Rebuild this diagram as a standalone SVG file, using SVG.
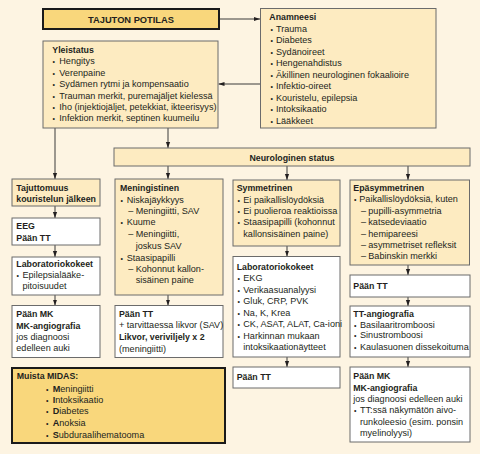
<svg xmlns="http://www.w3.org/2000/svg" width="480" height="454" viewBox="0 0 480 454">
<defs>
<style>
text { font-family: "Liberation Sans", Arial, sans-serif; font-size: 9.1px; fill: #231f20; }
.b { font-weight: bold; font-size: 8.8px; }
tspan.b { font-size: 9.1px; }
.d { font-size: 7px; }
.y { fill: #fdebc1; stroke: #6b6b6b; stroke-width: 1; }
.w { fill: #ffffff; stroke: #6b6b6b; stroke-width: 1; }
.k { fill: #f9d77c; stroke: #1a1a1a; stroke-width: 2; }
.c { stroke: #3a3a3a; stroke-width: 1; fill: none; marker-end: url(#a); }
</style>
<marker id="a" viewBox="0 0 6 6" refX="6" refY="3" markerWidth="6" markerHeight="6" orient="auto" markerUnits="userSpaceOnUse">
<path d="M0,0.9 L6,3 L0,5.1z" fill="#231f20"/>
</marker>
</defs>
<rect width="480" height="454" fill="#fdf4e2"/>

<g id="connectors">
<path class="c" d="M219,19 H260"/>
<path class="c" d="M260.5,84 H218.5"/>
<path class="c" d="M55,128 V179"/>
<path class="c" d="M168,128 V148"/>
<path class="c" d="M168,166 V179"/>
<path class="c" d="M287,166 V180"/>
<path class="c" d="M408,166 V180"/>
<path class="c" d="M55,206 V218"/>
<path class="c" d="M55,245 V257"/>
<path class="c" d="M55,295 V305.5"/>
<path class="c" d="M168,295 V305.5"/>
<path class="c" d="M287,246 V256.5"/>
<path class="c" d="M287,357 V367"/>
<path class="c" d="M408,265 V275"/>
<path class="c" d="M408,297 V306"/>
<path class="c" d="M408,357 V367"/>
</g>

<g id="tajuton">
<rect class="k" x="43" y="9" width="176" height="20"/>
<text class="b" x="131" y="23" text-anchor="middle" style="font-size:9.3px">TAJUTON POTILAS</text>
</g>

<g id="yleistatus">
<rect class="y" x="43" y="41" width="175" height="87"/>
<text class="b" x="52.3" y="53">Yleistatus</text>
<text class="d" x="52.5" y="64.4">•</text><text x="59.3" y="64.4">Hengitys</text>
<text class="d" x="52.5" y="75.8">•</text><text x="59.3" y="75.8">Verenpaine</text>
<text class="d" x="52.5" y="87.2">•</text><text x="59.3" y="87.2">Sydämen rytmi ja kompensaatio</text>
<text class="d" x="52.5" y="98.6">•</text><text x="59.3" y="98.6">Trauman merkit, puremajäljet kielessä</text>
<text class="d" x="52.5" y="110">•</text><text x="59.3" y="110">Iho (injektiojäljet, petekkiat, ikteerisyys)</text>
<text class="d" x="52.5" y="121.4">•</text><text x="59.3" y="121.4">Infektion merkit, septinen kuumeilu</text>
</g>

<g id="anamneesi">
<rect class="y" x="260.5" y="8.5" width="175.5" height="119.5"/>
<text class="b" x="269.3" y="20">Anamneesi</text>
<text class="d" x="270.5" y="31.6">•</text><text x="276" y="31.6">Trauma</text>
<text class="d" x="270.5" y="43.1">•</text><text x="276" y="43.1">Diabetes</text>
<text class="d" x="270.5" y="54.6">•</text><text x="276" y="54.6">Sydänoireet</text>
<text class="d" x="270.5" y="66.1">•</text><text x="276" y="66.1">Hengenahdistus</text>
<text class="d" x="270.5" y="77.6">•</text><text x="276" y="77.6">Äkillinen neurologinen fokaalioire</text>
<text class="d" x="270.5" y="89.1">•</text><text x="276" y="89.1">Infektio-oireet</text>
<text class="d" x="270.5" y="100.6">•</text><text x="276" y="100.6">Kouristelu, epilepsia</text>
<text class="d" x="270.5" y="112.1">•</text><text x="276" y="112.1">Intoksikaatio</text>
<text class="d" x="270.5" y="123.6">•</text><text x="276" y="123.6">Lääkkeet</text>
</g>

<g id="neurologinen">
<rect class="y" x="114" y="148" width="356" height="18"/>
<text class="b" x="292" y="160.5" text-anchor="middle">Neurologinen status</text>
</g>

<g id="tajuttomuus">
<rect class="y" x="12" y="179" width="88" height="27"/>
<text class="b" x="16.3" y="191">Tajuttomuus</text>
<text class="b" x="16.3" y="202.3">kouristelun jälkeen</text>
</g>

<g id="eeg">
<rect class="w" x="12" y="218" width="88" height="27"/>
<text class="b" x="16.3" y="229.3">EEG</text>
<text class="b" x="16.3" y="240.6">Pään TT</text>
</g>

<g id="lab-left">
<rect class="w" x="12" y="257" width="88" height="38"/>
<text class="b" x="16.3" y="266.6">Laboratoriokokeet</text>
<text class="d" x="16.5" y="278.2">•</text><text x="22.5" y="278.2">Epilepsialääke-</text>
<text x="22.5" y="289.2">pitoisuudet</text>
</g>

<g id="mk-left">
<rect class="w" x="12" y="305.5" width="88" height="52"/>
<text class="b" x="16.3" y="317.3">Pään MK</text>
<text class="b" x="16.3" y="328.5">MK-angiografia</text>
<text x="16.3" y="339.5">jos diagnoosi</text>
<text x="16.3" y="350.5">edelleen auki</text>
</g>

<g id="meningistinen">
<rect class="y" x="115" y="179" width="108" height="116"/>
<text class="b" x="120" y="191">Meningistinen</text>
<text class="d" x="120.5" y="203.3">•</text><text x="126.7" y="203.3">Niskajäykkyys</text>
<text x="128.3" y="214">–</text><text x="135.7" y="214">Meningiitti, SAV</text>
<text class="d" x="120.5" y="225">•</text><text x="126.7" y="225">Kuume</text>
<text x="128.3" y="237.3">–</text><text x="135.7" y="237.3">Meningiitti,</text>
<text x="135.7" y="249.3">joskus SAV</text>
<text class="d" x="120.5" y="260.6">•</text><text x="126.7" y="260.6">Staasipapilli</text>
<text x="128.3" y="271.6">–</text><text x="135.7" y="271.6">Kohonnut kallon-</text>
<text x="135.7" y="283.3">sisäinen paine</text>
</g>

<g id="tt-menin">
<rect class="w" x="115" y="305.5" width="108" height="52"/>
<text class="b" x="119" y="317.3">Pään TT</text>
<text x="119" y="328.3">+ tarvittaessa likvor (SAV)</text>
<text class="b" x="119" y="340">Likvor, veriviljely x 2</text>
<text x="119" y="351.6">(meningiitti)</text>
</g>

<g id="midas">
<rect class="k" x="12" y="368" width="213" height="75"/>
<text class="b" x="16.7" y="379.3">Muista MIDAS:</text>
<text class="d" x="46" y="391.6">•</text><text x="52.7" y="391.6"><tspan class="b">M</tspan>eningiitti</text>
<text class="d" x="46" y="402.6">•</text><text x="52.7" y="402.6"><tspan class="b">I</tspan>ntoksikaatio</text>
<text class="d" x="46" y="414.3">•</text><text x="52.7" y="414.3"><tspan class="b">D</tspan>iabetes</text>
<text class="d" x="46" y="426">•</text><text x="52.7" y="426"><tspan class="b">A</tspan>noksia</text>
<text class="d" x="46" y="437.6">•</text><text x="52.7" y="437.6"><tspan class="b">S</tspan>ubduraalihematooma</text>
</g>

<g id="symmetrinen">
<rect class="y" x="233" y="180" width="107" height="66"/>
<text class="b" x="236.7" y="191">Symmetrinen</text>
<text class="d" x="237.5" y="202.6">•</text><text x="243.3" y="202.6">Ei paikallislöydöksiä</text>
<text class="d" x="237.5" y="214">•</text><text x="243.3" y="214">Ei puolieroa reaktioissa</text>
<text class="d" x="237.5" y="225">•</text><text x="243.3" y="225">Staasipapilli (kohonnut</text>
<text x="243.3" y="236.6">kallonsisäinen paine)</text>
</g>

<g id="lab-mid">
<rect class="w" x="233" y="256.5" width="107" height="100.5"/>
<text class="b" x="236.7" y="270">Laboratoriokokeet</text>
<text class="d" x="237.5" y="281">•</text><text x="243.3" y="281">EKG</text>
<text class="d" x="237.5" y="292.6">•</text><text x="243.3" y="292.6">Verikaasuanalyysi</text>
<text class="d" x="237.5" y="304.3">•</text><text x="243.3" y="304.3">Gluk, CRP, PVK</text>
<text class="d" x="237.5" y="316">•</text><text x="243.3" y="316">Na, K, Krea</text>
<text class="d" x="237.5" y="327.3">•</text><text x="243.3" y="327.3">CK, ASAT, ALAT, Ca-ioni</text>
<text class="d" x="237.5" y="338.6">•</text><text x="243.3" y="338.6">Harkinnan mukaan</text>
<text x="243.3" y="350">intoksikaationäytteet</text>
</g>

<g id="tt-mid">
<rect class="w" x="233" y="367" width="107" height="21"/>
<text class="b" x="236.7" y="380">Pään TT</text>
</g>

<g id="epasymmetrinen">
<rect class="y" x="350" y="180" width="119.5" height="85"/>
<text class="b" x="353.3" y="191">Epäsymmetrinen</text>
<text class="d" x="354" y="202.3">•</text><text x="359.3" y="202.3">Paikallislöydöksiä, kuten</text>
<text x="361" y="214">–</text><text x="368.3" y="214">pupilli-asymmetria</text>
<text x="361" y="225.3">–</text><text x="368.3" y="225.3">katsedeviaatio</text>
<text x="361" y="236.6">–</text><text x="368.3" y="236.6">hemipareesi</text>
<text x="361" y="247.6">–</text><text x="368.3" y="247.6">asymmetriset refleksit</text>
<text x="361" y="259">–</text><text x="368.3" y="259">Babinskin merkki</text>
</g>

<g id="tt-right">
<rect class="w" x="350" y="275" width="120" height="22"/>
<text class="b" x="353.3" y="289">Pään TT</text>
</g>

<g id="tt-angio">
<rect class="w" x="350" y="306" width="120" height="51"/>
<text class="b" x="353.3" y="317.3">TT-angiografia</text>
<text class="d" x="354" y="327.6">•</text><text x="360" y="327.6">Basilaaritromboosi</text>
<text class="d" x="354" y="338.3">•</text><text x="360" y="338.3">Sinustromboosi</text>
<text class="d" x="354" y="350">•</text><text x="360" y="350">Kaulasuonen dissekoituma</text>
</g>

<g id="mk-right">
<rect class="w" x="350" y="367" width="120" height="75"/>
<text class="b" x="353.3" y="379">Pään MK</text>
<text class="b" x="353.3" y="391">MK-angiografia</text>
<text x="353.3" y="402">jos diagnoosi edelleen auki</text>
<text class="d" x="354" y="413.3">•</text><text x="360" y="413.3">TT:ssä näkymätön aivo-</text>
<text x="360" y="424.6">runkoleesio (esim. ponsin</text>
<text x="360" y="436">myelinolyysi)</text>
</g>
</svg>
